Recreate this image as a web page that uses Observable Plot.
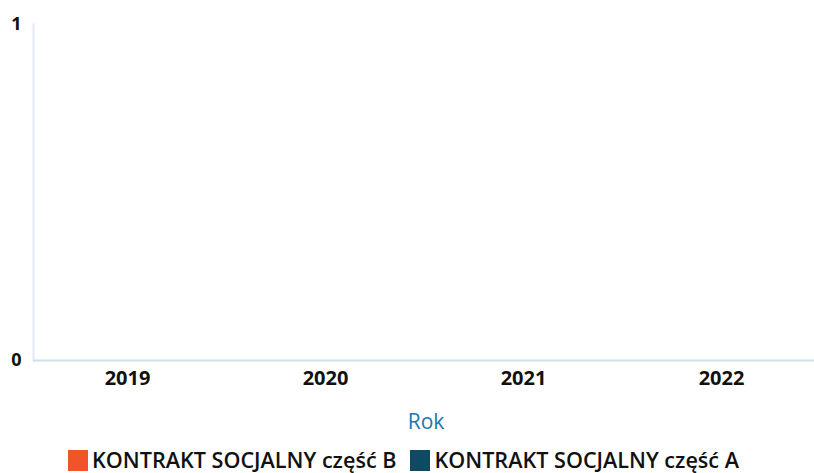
<!DOCTYPE html>
<html>
<head>
<meta charset="utf-8">
<script src="https://cdn.jsdelivr.net/npm/d3@7"></script>
<script src="https://cdn.jsdelivr.net/npm/@observablehq/plot@0.6"></script>
<style>
  body { margin: 0; background: #fff; font-family: "Open Sans", sans-serif; }
  #legend { position: absolute; left: 68px; top: 448px; display: flex; align-items: center; font-size: 21.6px; line-height: 24px; font-weight: 600; color: #111; white-space: nowrap; }
  .sw { width: 20px; height: 21px; display: inline-block; margin-right: 4px; }
  .item { display: flex; align-items: center; margin-right: 14px; }
</style>
</head>
<body>
<div id="chart"></div>
<div id="legend"></div>
<script>
const years = ["2019", "2020", "2021", "2022"];
const seriesNames = ["KONTRAKT SOCJALNY część B", "KONTRAKT SOCJALNY część A"];
const valuesB = [0, 0, 0, 0];
const valuesA = [0, 0, 0, 0];
const colors = ["#f0552a", "#0e4a63"];
const yTicks = [0, 1];

const data = [];
years.forEach((y, i) => {
  data.push({year: y, series: seriesNames[0], value: valuesB[i]});
  data.push({year: y, series: seriesNames[1], value: valuesA[i]});
});

const chart = Plot.plot({
  width: 814,
  height: 440,
  marginLeft: 33,
  marginRight: 0,
  marginTop: 24,
  marginBottom: 80,
  style: {fontFamily: "Open Sans, sans-serif", color: "#111", background: "#fff"},
  x: {domain: years, range: [28, 820], padding: 0, label: null},
  y: {domain: [0, 1], label: null},
  color: {domain: seriesNames, range: colors},
  marks: [
    Plot.barY(data, {x: "year", y: "value", fill: "series", insetLeft: 30, insetRight: 30}),
    Plot.frame({anchor: "left", stroke: "#e3ecf4", strokeWidth: 2}),
    Plot.ruleY([0], {stroke: "#cfe2e4", strokeWidth: 2}),
    Plot.axisY({ticks: yTicks, tickSize: 0, tickPadding: 12, fontSize: 18, fontWeight: "bold", tickFormat: d3.format("d")}),
    Plot.axisX({tickSize: 0, tickPadding: 10, fontSize: 20, fontWeight: "bold", label: null}),
    Plot.text(["Rok"], {frameAnchor: "bottom", dy: 68, dx: 2, text: d => d, fontSize: 21, fill: "#2176ae"})
  ]
});
document.getElementById("chart").appendChild(chart);

const legend = document.getElementById("legend");
seriesNames.forEach((name, i) => {
  const item = document.createElement("span");
  item.className = "item";
  const sw = document.createElement("span");
  sw.className = "sw";
  sw.style.background = colors[i];
  item.appendChild(sw);
  item.appendChild(document.createTextNode(name));
  legend.appendChild(item);
});
</script>
</body>
</html>
